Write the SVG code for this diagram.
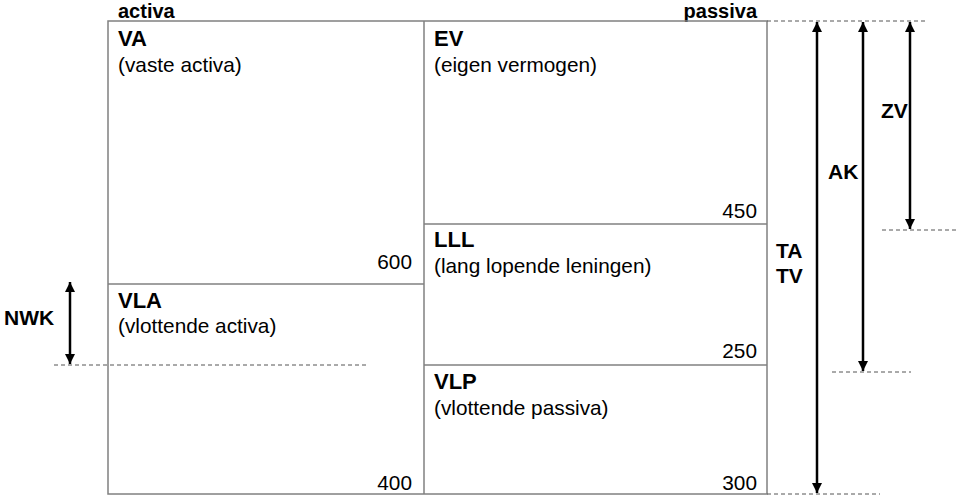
<svg xmlns="http://www.w3.org/2000/svg" width="960" height="503" viewBox="0 0 960 503">
<style>
.box{fill:none;stroke:#808080;stroke-width:1.5}
.div{stroke:#808080;stroke-width:1.5;fill:none}
.dash{stroke:#555;stroke-width:1;stroke-dasharray:4 3;fill:none}
.arr{stroke:#000;stroke-width:2.5;fill:none;marker-start:url(#ah);marker-end:url(#ah)}
.b{font-family:"Liberation Sans",Arial,sans-serif;font-weight:bold;font-size:21px;fill:#000}
.t{font-family:"Liberation Sans",Arial,sans-serif;font-weight:bold;font-size:20px;fill:#000}
.h{font-family:"Liberation Sans",Arial,sans-serif;font-weight:bold;font-size:22px;fill:#000}
.r{font-family:"Liberation Sans",Arial,sans-serif;font-size:20.8px;fill:#000}
.n{font-family:"Liberation Sans",Arial,sans-serif;font-size:20.8px;fill:#000;text-anchor:end}
</style>
<defs>
<marker id="ah" viewBox="0 0 10 10" refX="10" refY="5" markerWidth="4" markerHeight="4" orient="auto-start-reverse" markerUnits="strokeWidth">
<path d="M0,0 L10,5 L0,10 z" fill="#000"/>
</marker>
</defs>
<g id="headers">
<text class="t" x="118" y="18">activa</text>
<text class="t" x="757" y="18" text-anchor="end">passiva</text>
</g>
<g id="balance">
<rect class="box" x="108" y="21" width="659" height="473"/>
<line class="div" x1="424" y1="21" x2="424" y2="494"/>
</g>
<g id="VA">
<text class="h" x="118" y="46">VA</text>
<text class="r" x="118" y="72">(vaste activa)</text>
<text class="n" x="412" y="269">600</text>
</g>
<g id="VLA">
<line class="div" x1="108" y1="284" x2="424" y2="284"/>
<text class="h" x="118" y="308">VLA</text>
<text class="r" x="118" y="333">(vlottende activa)</text>
<text class="n" x="412" y="490">400</text>
</g>
<g id="EV">
<text class="h" x="434" y="46">EV</text>
<text class="r" x="434" y="72">(eigen vermogen)</text>
<text class="n" x="757" y="218">450</text>
</g>
<g id="LLL">
<line class="div" x1="424" y1="224" x2="767" y2="224"/>
<text class="h" x="434" y="247">LLL</text>
<text class="r" x="434" y="273">(lang lopende leningen)</text>
<text class="n" x="757" y="358">250</text>
</g>
<g id="VLP">
<line class="div" x1="424" y1="365" x2="767" y2="365"/>
<text class="h" x="434" y="389">VLP</text>
<text class="r" x="434" y="415">(vlottende passiva)</text>
<text class="n" x="757" y="490">300</text>
</g>
<g id="connectors">
<line class="dash" x1="767" y1="21" x2="928" y2="21"/>
<line class="dash" x1="882" y1="230" x2="958" y2="230"/>
<line class="dash" x1="832" y1="372" x2="911" y2="372"/>
<line class="dash" x1="767" y1="494" x2="880" y2="494"/>
<line class="dash" x1="54" y1="365" x2="367" y2="365"/>
<line class="arr" x1="817" y1="22" x2="817" y2="493"/>
<line class="arr" x1="863" y1="22" x2="863" y2="371"/>
<line class="arr" x1="910" y1="22" x2="910" y2="229"/>
<line class="arr" x1="70" y1="282" x2="70" y2="364"/>
</g>
<g id="labels">
<text class="b" x="776" y="258">TA</text>
<text class="b" x="776" y="283">TV</text>
<text class="b" x="828" y="179">AK</text>
<text class="b" x="881" y="118">ZV</text>
<text class="b" x="4" y="325">NWK</text>
</g>
</svg>
